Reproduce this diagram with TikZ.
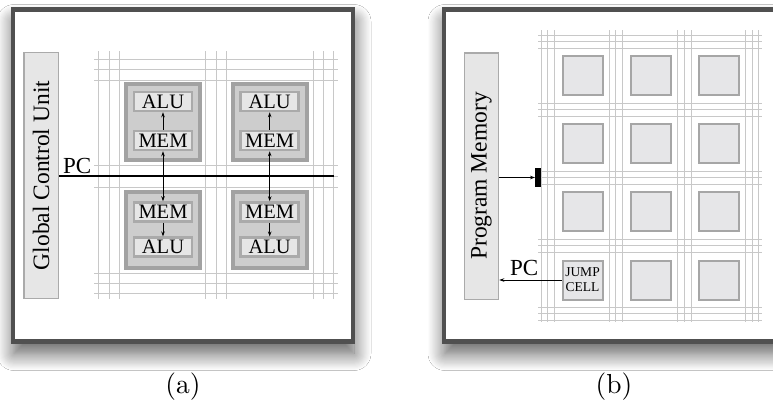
\documentclass[tikz,border=0pt]{standalone}
\usepackage{fontspec}
\newfontfamily\tms{Liberation Serif}
\usetikzlibrary{arrows.meta,shadows.blur}
\definecolor{frm}{HTML}{505050}
\definecolor{gridc}{HTML}{C8C8C8}
\definecolor{tileb}{HTML}{A2A2A2}
\definecolor{tilef}{HTML}{CDCDCD}
\definecolor{iboxb}{HTML}{AAAAAA}
\definecolor{iboxf}{HTML}{E6E6E6}
\definecolor{cellb}{HTML}{A6A6A6}
\definecolor{cellf}{HTML}{E6E6E8}
\begin{document}
\begin{tikzpicture}[x=1pt,y=-1pt,
  framebox/.style={draw=frm,line width=4.3pt,fill=white,
    blur shadow={shadow xshift=1pt,shadow yshift=-12pt,shadow blur radius=17pt,shadow opacity=65,shadow blur steps=16}},
  gline/.style={draw=gridc,line width=1pt},
  sidebox/.style={draw=iboxb,fill=iboxf,line width=1.5pt,rotate=90,inner sep=0pt,
    font=\tms\fontsize{23.5}{26}\selectfont},
  tilebox/.style={draw=tileb,fill=tilef,line width=4pt,inner sep=0pt,minimum width=74pt,minimum height=76pt},
  ibox/.style={draw=iboxb,fill=iboxf,line width=2.5pt,inner sep=0pt,minimum width=58pt,minimum height=19pt,
    font=\tms\fontsize{20.5}{22}\selectfont},
  cellbox/.style={draw=cellb,fill=cellf,line width=2pt,inner sep=0pt,minimum width=40pt,minimum height=39pt},
  arr/.style={draw=black,line width=0.8pt,-{Stealth[length=5pt,width=3.5pt]}},
  darr/.style={draw=black,line width=0.8pt,{Stealth[length=5pt,width=3.5pt]}-{Stealth[length=5pt,width=3.5pt]}},
  lbl/.style={inner sep=0pt,font=\tms\fontsize{23}{26}\selectfont},
  captxt/.style={inner sep=0pt,font=\fontsize{10}{12}\selectfont,scale=2.75,transform shape}
]
\useasboundingbox (0,0) rectangle (773,405);
\fill[white] (0,0) rectangle (773,405);

% ---------- panel (a) ----------
\draw[framebox] (13,9.5) rectangle (353,341.5);
\foreach \x in {98.3,109,119.7,205.7,216.3,226.7,313,323.3,333.7}
  \draw[gline] (\x,51) -- (\x,299);
\foreach \y in {59,69.7,80.3,165,176,187,273,283,293}
  \draw[gline] (94,\y) -- (338,\y);

\node[sidebox,minimum width=246pt,minimum height=34.5pt] (gcu) at (41,175.5) {Global Control Unit};

\node[tilebox] (t1) at (163,122) {};
\node[tilebox] (t2) at (269.7,122) {};
\node[tilebox] (t3) at (163,229.8) {};
\node[tilebox] (t4) at (269.7,229.8) {};

\node[ibox] (alu1) at (163,101.5) {ALU};
\node[ibox] (mem1) at (163,140.5) {MEM};
\node[ibox] (alu2) at (269.7,101.5) {ALU};
\node[ibox] (mem2) at (269.7,140.5) {MEM};
\node[ibox] (mem3) at (163,212) {MEM};
\node[ibox] (alu3) at (163,247.2) {ALU};
\node[ibox] (mem4) at (269.7,212) {MEM};
\node[ibox] (alu4) at (269.7,247.2) {ALU};

\draw[arr] (mem1) -- (alu1);
\draw[arr] (mem2) -- (alu2);
\draw[arr] (mem3) -- (alu3);
\draw[arr] (mem4) -- (alu4);

\coordinate (pcend) at (334,176);
\draw[line width=2pt] (gcu.south |- pcend) -- (pcend);
\draw[darr] (mem1) -- (mem3);
\draw[darr] (mem2) -- (mem4);
\node[lbl,anchor=base west] (pca) at (63,173) {PC};

\node[captxt] (capa) at (183,387) {(a)};

% ---------- panel (b) ----------
\draw[framebox] (444,9.5) rectangle (800,341.5);
\foreach \x in {541,547.5,554,609,615.5,622,677,684,691,745.5,752,758.5}
  \draw[gline] (\x,30) -- (\x,322);
\foreach \y in {35,41.7,48.3,103,109.3,116,171,177.5,184,239,245.7,252.3,307,313.5,320}
  \draw[gline] (538,\y) -- (762,\y);

\node[sidebox,minimum width=246.5pt,minimum height=34pt] (pm) at (481.5,176) {Program Memory};

\node[cellbox] (c11) at (582.5,75.5) {};
\node[cellbox] (c12) at (651,75.5) {};
\node[cellbox] (c13) at (719,75.5) {};
\node[cellbox] (c21) at (582.5,143.5) {};
\node[cellbox] (c22) at (651,143.5) {};
\node[cellbox] (c23) at (719,143.5) {};
\node[cellbox] (c31) at (582.5,211.5) {};
\node[cellbox] (c32) at (651,211.5) {};
\node[cellbox] (c33) at (719,211.5) {};
\node[cellbox,align=center,font=\tms\fontsize{13.5}{15}\selectfont] (jump) at (582.5,280) {JUMP\\CELL};
\node[cellbox] (c42) at (651,280) {};
\node[cellbox] (c43) at (719,280) {};

\node[fill=black,inner sep=0pt,minimum width=5.5pt,minimum height=18.5pt] (bar) at (538,177.5) {};
\draw[arr] (pm.south |- bar) -- (bar.west);
\draw[arr] (jump.west) -- (pm.south |- jump.west);
\node[lbl,anchor=base west] (pcb) at (510,275) {PC};

\node[captxt] (capb) at (614,387) {(b)};
\end{tikzpicture}
\end{document}
